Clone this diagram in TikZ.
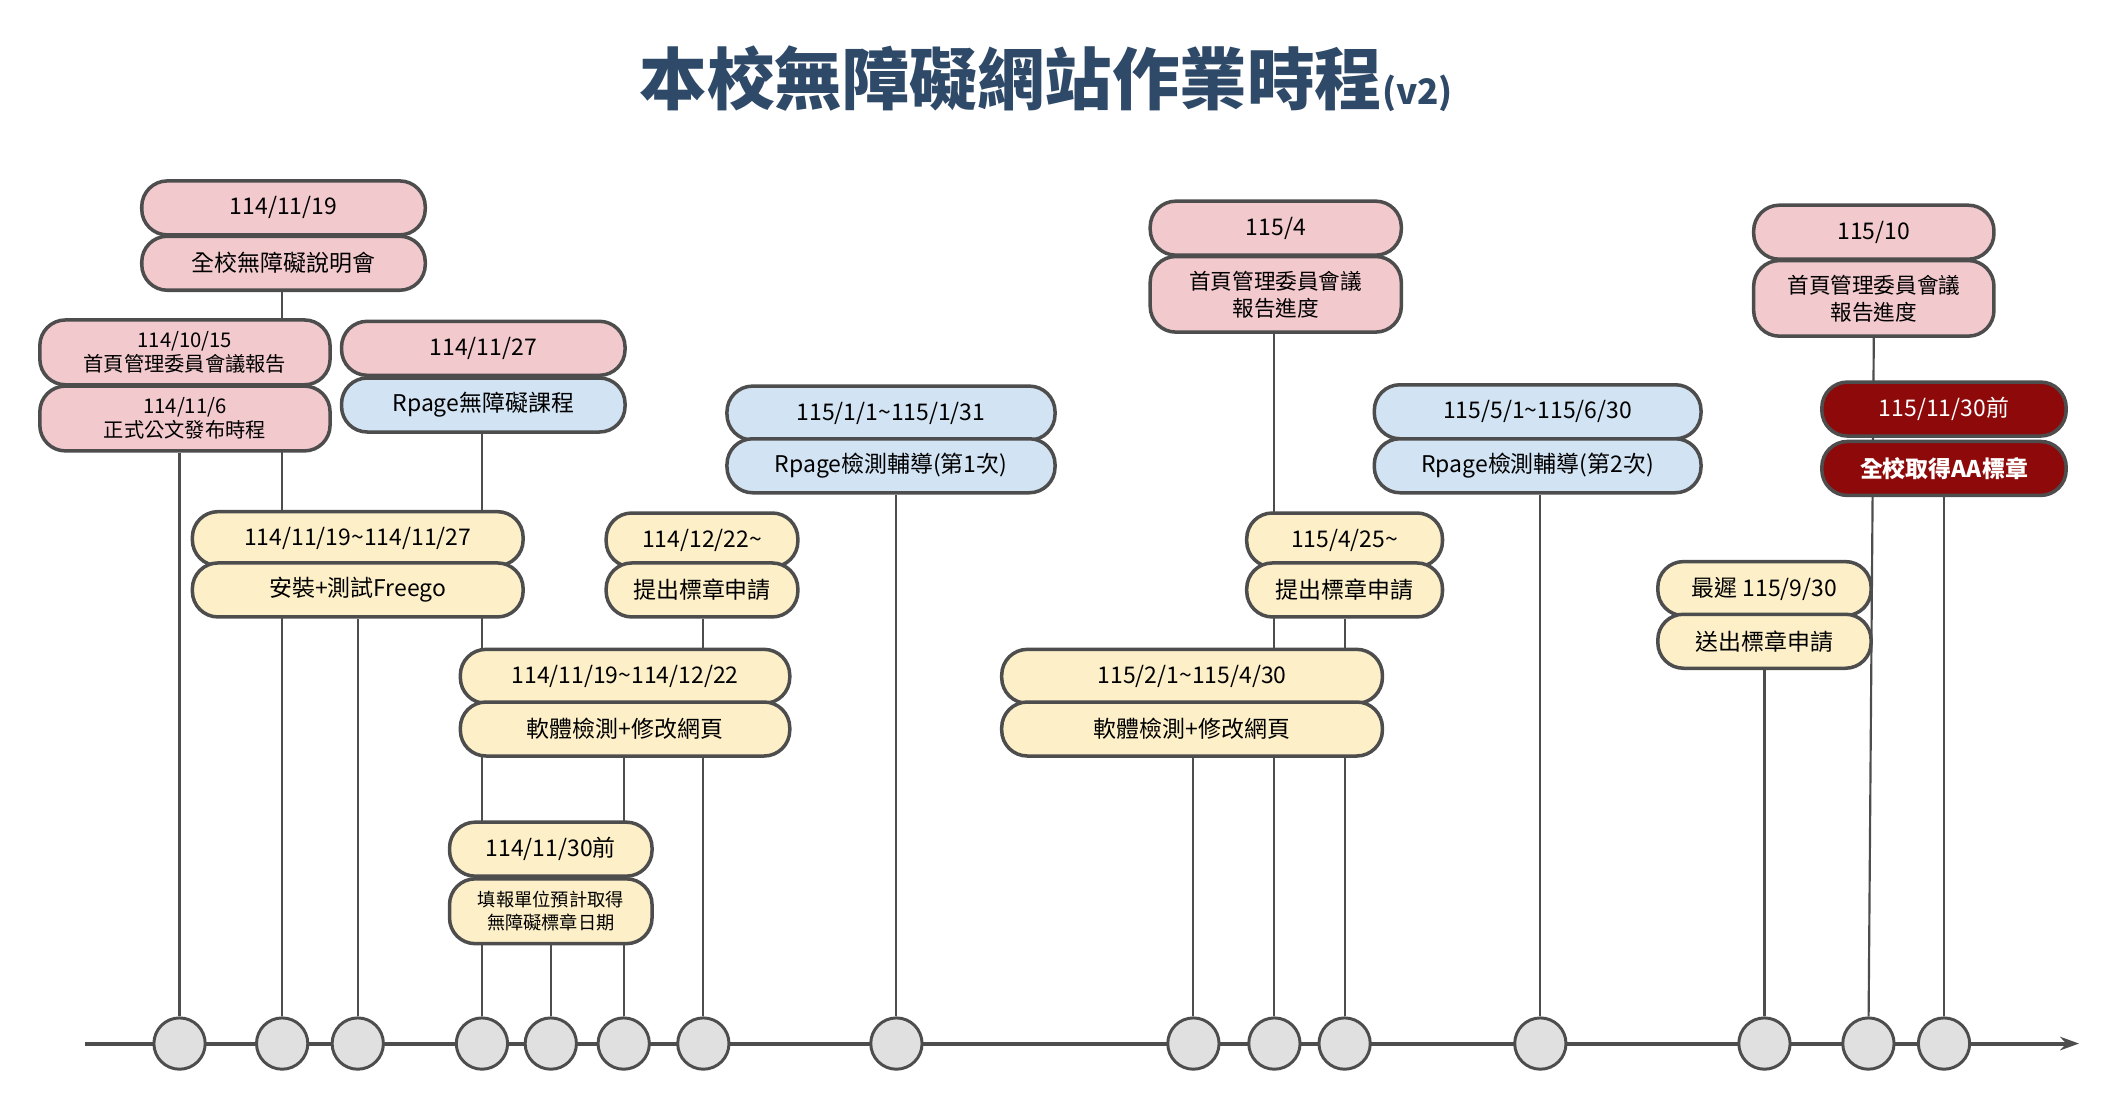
\documentclass[tikz,border=0pt]{standalone}
\usepackage{fontspec}
\setmainfont{Noto Sans CJK TC}
\usetikzlibrary{arrows.meta,backgrounds}
\definecolor{pk}{HTML}{F2C9CD}
\definecolor{bl}{HTML}{D2E3F3}
\definecolor{yl}{HTML}{FDF0C9}
\definecolor{rd}{HTML}{8E0A0A}
\definecolor{bd}{HTML}{4D4D4D}
\definecolor{tt}{HTML}{2F4A68}
\begin{document}
\begin{tikzpicture}[x=1pt,y=-1pt,
 pill/.style={draw=bd,line width=2.6pt,rounded corners=19pt,minimum height=40pt,inner sep=1pt,align=center,font=\fontsize{17}{19}\selectfont},
 pill2/.style={pill,minimum height=56pt,font=\fontsize{16}{20}\selectfont},
 small/.style={pill,minimum height=48pt,font=\fontsize{13.5}{17}\selectfont},
 dot/.style={circle,draw=bd,line width=2.2pt,fill=black!12,minimum size=38pt,inner sep=0},
 ln/.style={draw=bd,line width=1.6pt}]
\useasboundingbox (0,0) rectangle (1560,827);
\node[text=tt,font=\fontsize{50}{56}\selectfont\bfseries] (title) at (775,58) {本校無障礙網站作業時程\raisebox{0pt}{\fontsize{26}{28}\selectfont(v2)}};
% timeline
\coordinate (ts) at (63,773); \coordinate (te) at (1540,773);
\draw[bd,line width=3pt,-{Stealth[length=14pt,width=10pt]}] (ts) -- (te);
\foreach \x [count=\i] in {133,209,265,357,408,462,521,664,884,944,996,1141,1307,1384,1440}
  \node[dot] (c\i) at (\x,773) {};
% groups
\node[pill,fill=pk,minimum width=210pt] (a1) at (210,154) {114/11/19};
\node[pill,fill=pk,minimum width=210pt] (a2) at (210,195) {全校無障礙說明會};
\node[pill,fill=pk,minimum width=215pt,minimum height=48pt,font=\fontsize{15}{18}\selectfont] (b1) at (137,261) {114/10/15\\首頁管理委員會議報告};
\node[pill,fill=pk,minimum width=215pt,minimum height=48pt,font=\fontsize{15}{18}\selectfont] (b2) at (137,310) {114/11/6\\正式公文發布時程};
\node[pill,fill=pk,minimum width=210pt] (d1) at (358,258) {114/11/27};
\node[pill,fill=bl,minimum width=210pt] (d2) at (358,300) {Rpage無障礙課程};
\node[pill,fill=yl,minimum width=245pt] (e1) at (265,399) {114/11/19\textasciitilde114/11/27};
\node[pill,fill=yl,minimum width=245pt] (e2) at (265,437) {安裝+測試Freego};
\node[pill,fill=yl,minimum width=142pt] (f1) at (520,400) {114/12/22\textasciitilde};
\node[pill,fill=yl,minimum width=142pt] (f2) at (520,437) {提出標章申請};
\node[pill,fill=yl,minimum width=244pt] (g1) at (463,501) {114/11/19\textasciitilde114/12/22};
\node[pill,fill=yl,minimum width=244pt] (g2) at (463,540) {軟體檢測+修改網頁};
\node[pill,fill=yl,minimum width=150pt] (h1) at (408,629) {114/11/30前};
\node[small,fill=yl,minimum width=150pt] (h2) at (408,675) {填報單位預計取得\\無障礙標章日期};
\node[pill,fill=bl,minimum width=243pt] (i1) at (660,306) {115/1/1\textasciitilde115/1/31};
\node[pill,fill=bl,minimum width=243pt] (i2) at (660,345) {Rpage檢測輔導(第1次)};
\node[pill,fill=pk,minimum width=186pt] (j1) at (945,169) {115/4};
\node[pill2,fill=pk,minimum width=186pt] (j2) at (945,218) {首頁管理委員會議\\報告進度};
\node[pill,fill=yl,minimum width=145pt] (k1) at (996,400) {115/4/25\textasciitilde};
\node[pill,fill=yl,minimum width=145pt] (k2) at (996,437) {提出標章申請};
\node[pill,fill=yl,minimum width=282pt] (l1) at (883,501) {115/2/1\textasciitilde115/4/30};
\node[pill,fill=yl,minimum width=282pt] (l2) at (883,540) {軟體檢測+修改網頁};
\node[pill,fill=bl,minimum width=242pt] (m1) at (1139,305) {115/5/1\textasciitilde115/6/30};
\node[pill,fill=bl,minimum width=242pt] (m2) at (1139,345) {Rpage檢測輔導(第2次)};
\node[pill,fill=pk,minimum width=178pt] (n1) at (1388,172) {115/10};
\node[pill2,fill=pk,minimum width=178pt] (n2) at (1388,221) {首頁管理委員會議\\報告進度};
\node[pill,fill=rd,text=white,minimum width=181pt] (o1) at (1440,303) {115/11/30前};
\node[pill,fill=rd,text=white,minimum width=181pt,font=\fontsize{17}{19}\selectfont\bfseries] (o2) at (1440,347) {全校取得AA標章};
\node[pill,fill=yl,minimum width=158pt] (p1) at (1307,436) {最遲 115/9/30};
\node[pill,fill=yl,minimum width=158pt] (p2) at (1307,475) {送出標章申請};
\begin{pgfonlayer}{background}
\draw[ln] (c1) -- (c1|-b2.south);
\draw[ln] (c2) -- (c2|-a2.south);
\draw[ln] (c3) -- (c3|-e2.south);
\draw[ln] (c4) -- (c4|-d2.south);
\draw[ln] (c5) -- (c5|-h2.south);
\draw[ln] (c6) -- (c6|-g2.south);
\draw[ln] (c7) -- (c7|-f2.south);
\draw[ln] (c8) -- (c8|-i2.south);
\draw[ln] (c9) -- (c9|-l2.south);
\draw[ln] (c10) -- (c10|-j2.south);
\draw[ln] (c11) -- (c11|-k2.south);
\draw[ln] (c12) -- (c12|-m2.south);
\draw[ln] (c13) -- (c13|-p2.south);
\draw[ln] (c14) -- (n2.south);
\draw[ln] (c15) -- (c15|-o2.south);
\end{pgfonlayer}
\end{tikzpicture}
\end{document}
